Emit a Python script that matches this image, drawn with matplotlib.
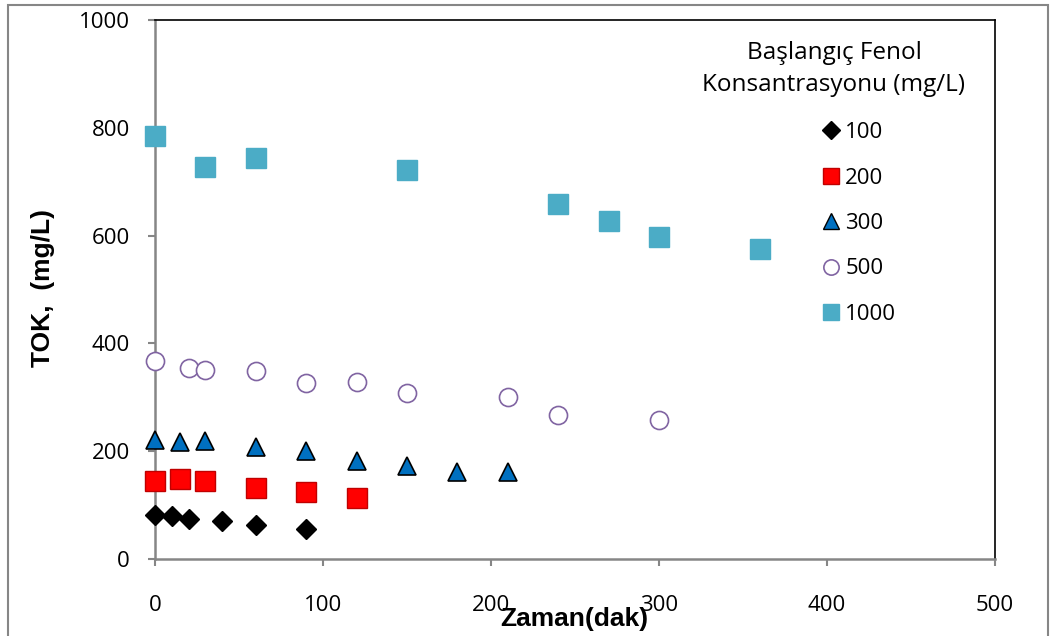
import matplotlib
matplotlib.use("Agg")
import matplotlib.pyplot as plt
from matplotlib.lines import Line2D
from matplotlib.patches import Rectangle

# Zaman (dak) and TOK (mg/L) for each starting phenol concentration
t_100 = [0, 10, 20, 40, 60, 90]
tok_100 = [82, 79, 75, 70, 64, 56]

t_200 = [0, 15, 30, 60, 90, 120]
tok_200 = [145, 148, 145, 132, 124, 113]

t_300 = [0, 15, 30, 60, 90, 120, 150, 180, 210]
tok_300 = [221, 217, 219, 208, 200, 182, 173, 161, 161]

t_500 = [0, 20, 30, 60, 90, 120, 150, 210, 240, 300]
tok_500 = [367, 354, 351, 349, 327, 328, 308, 301, 267, 258]

t_1000 = [0, 30, 60, 150, 240, 270, 300, 360]
tok_1000 = [785, 728, 744, 721, 658, 627, 597, 575]

labels = ["100", "200", "300", "500", "1000"]

plt.rcParams["font.family"] = ["Open Sans", "DejaVu Sans"]

fig = plt.figure(figsize=(10.51, 6.36), dpi=100)
ax = fig.add_axes([155 / 1051, 1 - 559 / 636, 840 / 1051, 539 / 636])

kw = dict(ls="none", clip_on=False, zorder=3)
ax.plot(t_100, tok_100, "D", ms=10, color="black", mec="black", **kw)
ax.plot(t_200, tok_200, "s", ms=14, color="#FF0000", mec="#C00000", mew=1, **kw)
ax.plot(t_300, tok_300, "^", ms=13.5, color="#0070C0", mec="black", mew=1.2, **kw)
ax.plot(t_500, tok_500, "o", ms=13, mfc="white", mec="#8064A2", mew=1.2, **kw)
ax.plot(t_1000, tok_1000, "s", ms=14, color="#4BACC6", mec="#4BACC6", **kw)

ax.set_xlim(0, 500)
ax.set_ylim(0, 1000)
ax.set_xticks(range(0, 501, 100))
ax.set_yticks(range(0, 1001, 200))
ax.tick_params(direction="out", length=5, width=1.5, color="#868686",
               labelsize=16)
ax.tick_params(axis="x", pad=21)
ax.tick_params(axis="y", pad=13)
for s in ["left", "bottom"]:
    ax.spines[s].set_color("#868686")
    ax.spines[s].set_linewidth(1.8)
for s in ["top", "right"]:
    ax.spines[s].set_color("black")
    ax.spines[s].set_linewidth(1.2)

fig.text(574 / 1051, 1 - 619 / 636, "Zaman(dak)", ha="center", va="center",
         fontsize=19, fontweight="bold", family="Liberation Sans")
fig.text(43 / 1051, 1 - 288 / 636, "TOK,  (mg/L)", ha="center", va="center",
         rotation=90, fontsize=19, fontweight="bold", family="Liberation Sans")

# legend title and entries
fig.text(834 / 1051, 1 - 69 / 636, "Başlangıç Fenol\nKonsantrasyonu (mg/L)",
         ha="center", va="center", fontsize=17.5, linespacing=1.45)
handles = [
    Line2D([], [], marker="D", ms=9, color="black", ls="none"),
    Line2D([], [], marker="s", ms=12, color="#FF0000", mec="#C00000", ls="none"),
    Line2D([], [], marker="^", ms=12, color="#0070C0", mec="black", ls="none"),
    Line2D([], [], marker="o", ms=11, mfc="white", mec="#8064A2", mew=1.2, ls="none"),
    Line2D([], [], marker="s", ms=12, color="#4BACC6", ls="none"),
]
fig.legend(handles, labels, loc="upper left",
           bbox_to_anchor=(812 / 1051, 1 - 111 / 636), frameon=False,
           fontsize=16, handlelength=0.7, handletextpad=0.3, labelspacing=1.1,
           borderpad=0)

# outer chart border
fig.patches.append(Rectangle((8 / 1051, -0.01), 1040 / 1051, 1 - 5 / 636 + 0.01,
                             transform=fig.transFigure, fill=False,
                             edgecolor="#868686", lw=1.5))

fig.savefig("out.png", dpi=100)
